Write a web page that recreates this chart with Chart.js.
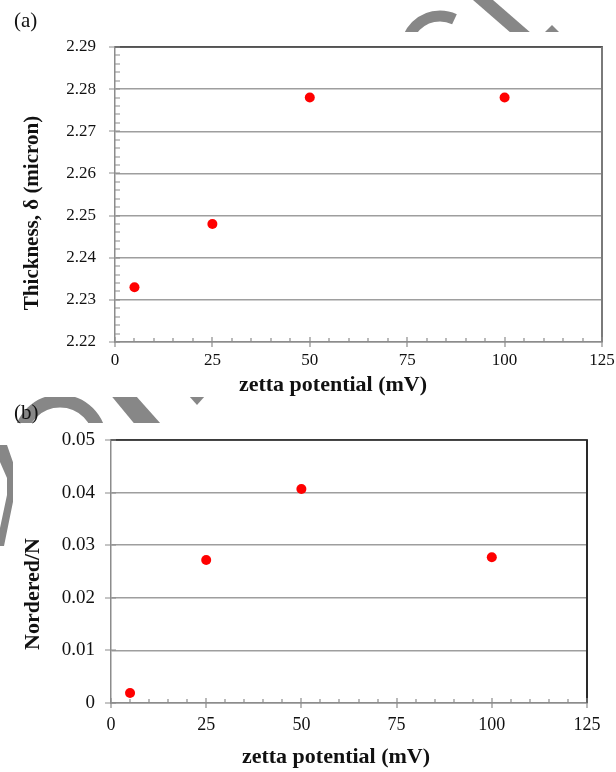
<!DOCTYPE html>
<html>
<head>
<meta charset="utf-8">
<script src="https://cdn.jsdelivr.net/npm/chart.js@4.4.0/dist/chart.umd.min.js"></script>
<style>
  body { margin: 0; width: 616px; height: 772px; position: relative; overflow: hidden; background: #fff;
         font-family: "Liberation Serif", "Times New Roman", serif; }
  #mark { position: absolute; left: 0; top: 0; }
  .panel { position: absolute; background: #fff; }
  #boxA { left: 0; top: 32px; width: 616px; height: 365px; }
  #boxB { left: 13px; top: 423px; width: 603px; height: 349px; }
  .tag { position: absolute; font-size: 21px; color: #111; line-height: 24px; }
</style>
</head>
<body>
<canvas id="mark" width="616" height="772"></canvas>
<div class="panel" id="boxA"><canvas id="chartA" width="616" height="365"></canvas></div>
<div class="panel" id="boxB"><canvas id="chartB" width="603" height="349"></canvas></div>
<div class="tag" style="left:14px;top:8px">(a)</div>
<div class="tag" style="left:14px;top:400px">(b)</div>

<script>
// data
const zeta = [5, 25, 50, 100];
const thickness = [2.233, 2.248, 2.278, 2.278];
const ordered = [0.0019, 0.0272, 0.0407, 0.0277];
const zetaTicks = [0, 25, 50, 75, 100, 125];
const thicknessTicks = [2.22, 2.23, 2.24, 2.25, 2.26, 2.27, 2.28, 2.29];
const orderedTicks = [0, 0.01, 0.02, 0.03, 0.04, 0.05];

const axisGray = '#8c8c8c';
const gridGray = '#9e9e9e';

// grey watermark pieces that peek out between the two panels
(function drawMark() {
    const c = document.getElementById('mark').getContext('2d');
    c.fillStyle = c.strokeStyle = '#878787';
    function poly(pts) {
        c.beginPath();
        pts.forEach((p, i) => i ? c.lineTo(p[0], p[1]) : c.moveTo(p[0], p[1]));
        c.closePath();
        c.fill();
    }
    c.lineWidth = 11;
    c.beginPath(); c.arc(440, 50, 34, Math.PI * 1.0, Math.PI * 1.64); c.stroke();
    poly([[473, 0], [493, 0], [539, 40], [519, 40]]);
    poly([[552, 25], [564, 37], [540, 37]]);
    c.lineWidth = 13;
    c.beginPath(); c.arc(60, 441, 40, Math.PI, Math.PI * 2); c.stroke();
    poly([[104, 387], [128, 387], [169, 433], [142, 433]]);
    poly([[181, 387], [213, 387], [197, 405]]);
    poly([[0, 445], [7, 445], [15, 468], [15, 492], [4, 546], [0, 546], [0, 528], [7, 495], [7, 478], [0, 462]]);
})();

// excel-ish frame: top/right border, crossing major ticks, inner minor ticks, axis titles
const excelFrame = {
    id: 'excelFrame',
    afterDraw(chart, args, o) {
        const {ctx, chartArea: a, scales: {x, y}} = chart;
        ctx.save();
        ctx.lineWidth = 1.5;
        ctx.strokeStyle = o.topColor;
        ctx.beginPath(); ctx.moveTo(a.left, a.top); ctx.lineTo(a.right + 1, a.top); ctx.stroke();
        ctx.lineWidth = 2;
        ctx.strokeStyle = o.rightColor;
        ctx.beginPath(); ctx.moveTo(a.right, a.top); ctx.lineTo(a.right, a.bottom); ctx.stroke();

        ctx.strokeStyle = axisGray;
        ctx.lineWidth = 1.2;
        ctx.beginPath();
        zetaTicks.forEach(v => {
            const px = Math.round(x.getPixelForValue(v));
            ctx.moveTo(px, a.bottom - 5); ctx.lineTo(px, a.bottom + 5);
        });
        const nx = Math.round((x.max - x.min) / o.xMinor);
        for (let i = 0; i <= nx; i++) {
            const px = Math.round(x.getPixelForValue(x.min + i * o.xMinor));
            ctx.moveTo(px, a.bottom); ctx.lineTo(px, a.bottom - 4);
        }
        o.yTicks.forEach(v => {
            const py = Math.round(y.getPixelForValue(v));
            ctx.moveTo(a.left - 6, py); ctx.lineTo(a.left + 5, py);
        });
        if (o.yMinor) {
            const ny = Math.round((y.max - y.min) / o.yMinor);
            for (let i = 0; i <= ny; i++) {
                const py = Math.round(y.getPixelForValue(y.min + i * o.yMinor));
                ctx.moveTo(a.left, py); ctx.lineTo(a.left + 5, py);
            }
        }
        ctx.stroke();

        ctx.fillStyle = '#111';
        ctx.textAlign = 'center';
        ctx.textBaseline = 'middle';
        ctx.font = 'bold 22px "Liberation Serif"';
        ctx.fillText(o.xTitle, o.xTitleAt[0], o.xTitleAt[1]);
        ctx.font = 'bold ' + o.yTitleSize + 'px "Liberation Serif"';
        ctx.translate(o.yTitleAt[0], o.yTitleAt[1]);
        ctx.rotate(-Math.PI / 2);
        ctx.fillText(o.yTitle, 0, 0);
        ctx.restore();
    }
};

// drop the label overhang chart.js adds, so layout.padding alone sets the plot box
function noOverhang(s) {
    s.paddingTop = s.paddingBottom = s.paddingLeft = s.paddingRight = 0;
}

function makeChart(canvasId, yValues, yTicks, yMin, yMax, opts) {
    return new Chart(document.getElementById(canvasId), {
        type: 'scatter',
        data: {
            datasets: [{
                data: zeta.map((v, i) => ({x: v, y: yValues[i]})),
                backgroundColor: '#ff0000',
                borderWidth: 0,
                pointRadius: opts.pointRadius
            }]
        },
        options: {
            responsive: false,
            animation: false,
            layout: {padding: opts.padding},
            plugins: {
                legend: {display: false},
                tooltip: {enabled: false},
                excelFrame: opts.frame
            },
            scales: {
                x: {
                    type: 'linear',
                    min: 0,
                    max: 125,
                    afterBuildTicks: s => { s.ticks = zetaTicks.map(v => ({value: v})); },
                    afterFit: s => { s.height = opts.xHeight; noOverhang(s); },
                    grid: {display: false, drawTicks: false},
                    border: {color: axisGray, width: 1.5},
                    ticks: {padding: opts.xPad, color: '#111', maxRotation: 0, autoSkip: false,
                            font: {family: 'Liberation Serif', size: opts.xTickSize}}
                },
                y: {
                    min: yMin,
                    max: yMax,
                    afterBuildTicks: s => { s.ticks = yTicks.map(v => ({value: v})); },
                    afterFit: s => { s.width = opts.yWidth; noOverhang(s); },
                    grid: {color: gridGray, lineWidth: 1.5, drawTicks: false},
                    border: {color: axisGray, width: 1.5},
                    ticks: {padding: opts.yPad, color: '#111', autoSkip: false,
                            font: {family: 'Liberation Serif', size: opts.yTickSize},
                            callback: v => v === 0 ? '0' : v.toFixed(2)}
                }
            }
        },
        plugins: [excelFrame]
    });
}

makeChart('chartA', thickness, thicknessTicks, 2.22, 2.29, {
    padding: {left: 0, right: 14, top: 15, bottom: 0},
    xHeight: 55, yWidth: 115, xPad: 8, yPad: 19, xTickSize: 17, yTickSize: 17, pointRadius: 5,
    frame: {
        topColor: '#3a3a3a', rightColor: '#7a7a7a', xMinor: 5, yMinor: 0.002, yTicks: thicknessTicks,
        xTitle: 'zetta potential (mV)', xTitleAt: [333, 353],
        yTitle: 'Thickness, δ (micron)', yTitleAt: [33, 181], yTitleSize: 21
    }
});

makeChart('chartB', ordered, orderedTicks, 0, 0.05, {
    padding: {left: 0, right: 29, top: 17, bottom: 0},
    xHeight: 69, yWidth: 98, xPad: 11, yPad: 16, xTickSize: 18, yTickSize: 19, pointRadius: 5,
    frame: {
        topColor: '#1a1a1a', rightColor: '#2a2a2a', xMinor: 5, yMinor: 0, yTicks: orderedTicks,
        xTitle: 'zetta potential (mV)', xTitleAt: [323, 334],
        yTitle: 'Nordered/N', yTitleAt: [20, 171], yTitleSize: 22
    }
});
</script>
</body>
</html>
